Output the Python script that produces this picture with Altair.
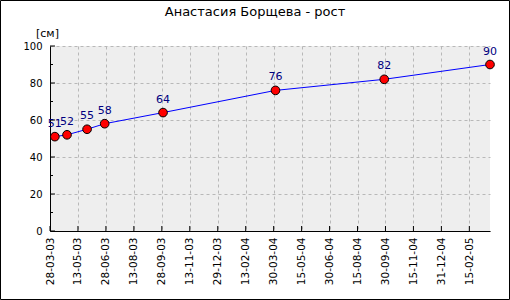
import altair as alt
import pandas as pd

title_text = "Анастасия Борщева - рост"
dates = ["2003-04-05", "2003-04-25", "2003-05-28", "2003-06-26", "2003-09-30",
         "2004-04-02", "2004-09-28", "2005-03-21"]
heights = [51, 52, 55, 58, 64, 76, 82, 90]

tick_dates = [(2003, 3, 28), (2003, 5, 13), (2003, 6, 28), (2003, 8, 13), (2003, 9, 28),
              (2003, 11, 13), (2003, 12, 29), (2004, 2, 13), (2004, 3, 30), (2004, 5, 15),
              (2004, 6, 30), (2004, 8, 15), (2004, 9, 30), (2004, 11, 15), (2004, 12, 31),
              (2005, 2, 15)]
y_major = [0, 20, 40, 60, 80, 100]
y_minor = [10, 30, 50, 70, 90]

df = pd.DataFrame({"date": dates, "h": heights})
tick_df = pd.DataFrame({"date": ["%04d-%02d-%02d" % t for t in tick_dates]})
ymaj_df = pd.DataFrame({"v": y_major})
ymin_df = pd.DataFrame({"v": y_minor})
title_df = pd.DataFrame({"t": [title_text]})

W, H = 440, 185
FONT = "DejaVu Sans"

xscale = alt.Scale(type="utc", domain=[alt.DateTime(year=2003, month=3, date=28, utc=True),
                                       alt.DateTime(year=2005, month=3, date=21, utc=True)],
                   nice=False)
yscale = alt.Scale(domain=[0, 100], nice=False)

xaxis = alt.Axis(values=[alt.DateTime(year=y, month=m, date=d, utc=True) for (y, m, d) in tick_dates],
                 labelExpr="utcFormat(datum.value, '%d-%m-%y')", labelAngle=270, labelAlign="right",
                 labelBaseline="middle", labelFont=FONT, labelFontSize=10.5, labelColor="#000000",
                 labelPadding=6, ticks=False, domainColor="#000000", domainWidth=1,
                 grid=True, gridColor="#b8b8b8", gridDash=[3, 3], gridWidth=1, title=None,
                 labelOverlap=False, labelFlush=False)
yaxis = alt.Axis(values=y_major, labelFont=FONT, labelFontSize=10,
                 labelColor="#000000", labelPadding=8, ticks=False, domainColor="#000000",
                 grid=True, gridColor="#b8b8b8", gridDash=[3, 3], gridWidth=1,
                 title="[см]", titleAngle=0, titleFont=FONT, titleFontSize=11,
                 titleFontWeight="normal", titleAlign="center", titleBaseline="alphabetic",
                 titleX=-3, titleY=-10, titleColor="#000000", labelOverlap=False)

X = alt.X("date:T", scale=xscale, axis=xaxis)
Y = alt.Y("h:Q", scale=yscale, axis=yaxis)

base = alt.Chart(df)
line = base.mark_line(color="#0000ff", strokeWidth=1).encode(x=X, y=Y)
pts = base.mark_point(shape="circle", filled=True, fill="#ff0000", stroke="#000000",
                      strokeWidth=1, size=75, opacity=1).encode(x=X, y=Y)
labels = base.mark_text(font=FONT, fontSize=11, color="#000080", dy=-10,
                        baseline="alphabetic").encode(x=X, y=Y, text="h:Q")

xticks = alt.Chart(tick_df).mark_rule(color="#000000", strokeWidth=1).encode(
    x=X, y=alt.value(H), y2=alt.value(H - 5))
yminor = alt.Chart(ymin_df).mark_rule(color="#000000", strokeWidth=1).encode(
    y=alt.Y("v:Q", scale=yscale, axis=yaxis), x=alt.value(0), x2=alt.value(3))
ymajor = alt.Chart(ymaj_df).mark_rule(color="#000000", strokeWidth=1).encode(
    y=alt.Y("v:Q", scale=yscale, axis=yaxis), x=alt.value(0), x2=alt.value(5))

title = alt.Chart(title_df).mark_text(font=FONT, fontSize=13, color="#000000",
                                      align="center", baseline="alphabetic", clip=False).encode(
    x=alt.value(205), y=alt.value(-30), text="t:N")

border = alt.Chart(df.head(1)).mark_rect(fill=None, stroke="#000000", strokeWidth=1,
                                         clip=False).encode(
    x=alt.value(-49.5), x2=alt.value(459.5), y=alt.value(-45.5), y2=alt.value(253.5))

chart = alt.layer(line, xticks, yminor, ymajor, pts, labels, title, border).properties(
    width=W, height=H,
    autosize=alt.AutoSizeParams(type="none"),
    padding={"left": 50, "top": 46, "right": 20, "bottom": 69},
    background="#ffffff",
).configure_view(fill="#eeeeee", stroke=None)

chart.save("out.html", embed_options={"renderer": "svg", "actions": False})
